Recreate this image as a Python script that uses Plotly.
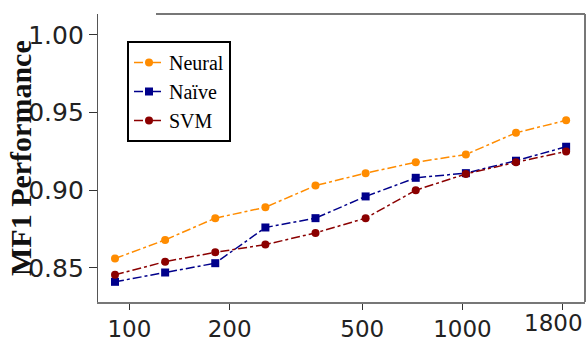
import plotly.graph_objects as go

# Data
train_sizes = [90.5, 128, 181, 256, 362, 512, 724, 1024, 1448, 2048]
neural = [0.856, 0.868, 0.882, 0.889, 0.903, 0.911, 0.918, 0.923, 0.937, 0.945]
naive = [0.841, 0.847, 0.853, 0.876, 0.882, 0.896, 0.908, 0.911, 0.919, 0.928]
svm = [0.8455, 0.854, 0.860, 0.865, 0.8725, 0.882, 0.900, 0.9105, 0.918, 0.925]

x_tickvals = [100, 200, 500, 1000, 2000]
x_ticktext = ["100", "200", "500", "1000", "1800"]
y_tickvals = [0.85, 0.90, 0.95, 1.00]
y_ticktext = ["0.85", "0.90", "0.95", "1.00"]

series = [
    ("Neural", neural, "#ff8c00", "circle"),
    ("Naïve", naive, "#00008b", "square"),
    ("SVM", svm, "#8b0000", "circle"),
]

fig = go.Figure()
for name, vals, color, sym in series:
    fig.add_trace(go.Scatter(
        x=train_sizes, y=vals, name=name, mode="lines+markers",
        line=dict(color=color, width=1.5, dash="dashdot"),
        marker=dict(color=color, symbol=sym, size=8),
    ))

W, H = 588, 341
ml, mr, mt, mb = 98, 3, 14, 39
pw = W - ml - mr
ph = H - mt - mb


def px_x(sx):
    return (sx - ml) / pw


x_tick_font = dict(family="DejaVu Sans", size=23, color="#222")
y_tick_font = dict(family="DejaVu Sans", size=25, color="#222")
# last x label is drawn shifted left to stay inside the picture, as in the reference
shown_text = x_ticktext[:-1] + [""]

fig.update_layout(
    width=W, height=H,
    margin=dict(l=ml, r=mr, t=mt, b=mb),
    paper_bgcolor="white", plot_bgcolor="white",
    showlegend=True,
    legend=dict(
        x=px_x(127), y=1 - (41 - mt) / ph,
        xanchor="left", yanchor="top",
        bordercolor="black", borderwidth=2, bgcolor="white",
        font=dict(family="Liberation Serif", size=20, color="black"),
        itemwidth=30, tracegroupgap=0,
    ),
    xaxis=dict(
        type="log", range=[1.9056, 3.368],
        tickvals=x_tickvals, ticktext=shown_text,
        ticks="outside", ticklen=6, tickcolor="#333",
        showgrid=False, zeroline=False, automargin=False,
        showline=True, linecolor="#777", linewidth=1.5, mirror=False,
        tickfont=x_tick_font,
    ),
    yaxis=dict(
        range=[0.828, 1.0135],
        tickvals=y_tickvals, ticktext=y_ticktext,
        ticks="outside", ticklen=8, tickcolor="#333",
        showgrid=False, zeroline=False, automargin=False,
        showline=True, linecolor="#555", linewidth=1.2,
        tickfont=y_tick_font,
    ),
    annotations=[
        dict(
            text="<b>MF1 Performance</b>", textangle=-90,
            xref="paper", yref="paper",
            x=px_x(20), y=0.5,
            xanchor="center", yanchor="middle", showarrow=False,
            font=dict(family="Liberation Serif", size=30, color="#111"),
        ),
        dict(
            text=x_ticktext[-1], xref="paper", yref="paper",
            x=px_x(553), y=-(6 / ph),
            xanchor="center", yanchor="top", showarrow=False,
            font=x_tick_font,
        ),
    ],
    shapes=[
        dict(type="line", xref="paper", yref="paper",
             x0=px_x(156), x1=1, y0=1, y1=1,
             line=dict(color="#777", width=2)),
        dict(type="line", xref="paper", yref="paper",
             x0=1, x1=1, y0=0, y1=1,
             line=dict(color="#777", width=2)),
    ],
)

fig.write_html(
    "out.html",
    config={"displayModeBar": False},
    post_script="document.body.style.margin='0px';document.body.style.overflow='hidden';",
)
